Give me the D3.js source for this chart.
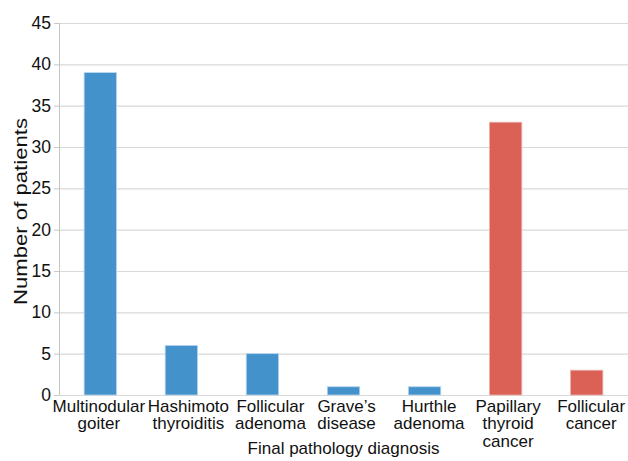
<!DOCTYPE html>
<html>
<head>
<meta charset="utf-8">
<script src="https://cdn.jsdelivr.net/npm/d3@7"></script>
<style>
  html, body { margin: 0; padding: 0; background: #fff; }
  svg { display: block; font-family: "Liberation Sans", Arial, sans-serif; }
</style>
</head>
<body>
<svg id="chart" width="628" height="461"></svg>
<script>
// Diagnosis categories (each label split into its display lines)
const categories = [
  ["Multinodular", "goiter"],
  ["Hashimoto", "thyroiditis"],
  ["Follicular", "adenoma"],
  ["Grave\u2019s", "disease"],
  ["Hurthle", "adenoma"],
  ["Papillary", "thyroid", "cancer"],
  ["Follicular", "cancer"]
];
// Number of patients per diagnosis
const patients = [39, 6, 5, 1, 1, 33, 3];
// Benign vs malignant grouping, used for colour
const group = ["benign", "benign", "benign", "benign", "benign", "malignant", "malignant"];
const yTicks = [0, 5, 10, 15, 20, 25, 30, 35, 40, 45];

// Layout: small horizontal nudges of the category labels (px)
const labelShift = [-1.5, 7, 8, 3, 4.5, 2.5, 4.5];

const colours = { benign: "#4392cb", malignant: "#db6156" };
const strokes = { benign: "#b9d6ee", malignant: "#f0b3ad" };

const svg = d3.select("#chart");
const plotLeft = 59, plotRight = 628, plotTop = 23, plotBottom = 395;

const keys = categories.map(c => c.join(" "));
const x = d3.scaleBand().domain(keys).range([plotLeft, plotRight])
  .paddingInner(0.6).paddingOuter(0.31);
const y = d3.scaleLinear().domain([0, 45]).range([plotBottom, plotTop]);

// Horizontal gridlines with short outward ticks
const yAxis = svg.append("g")
  .attr("transform", `translate(${plotLeft},0)`)
  .call(d3.axisLeft(y).tickValues(yTicks).tickSize(5).tickPadding(3));
yAxis.select(".domain").remove();
yAxis.selectAll(".tick line").attr("stroke", "#c8c8c8");
yAxis.selectAll(".tick text")
  .attr("fill", "#111").style("font-size", "17.5px");
yAxis.selectAll(".tick").append("line")
  .attr("x1", 0).attr("x2", plotRight - plotLeft)
  .attr("stroke", "#d9d9d9").attr("stroke-width", 1.2);

// Vertical axis line
svg.append("line")
  .attr("x1", plotLeft + 0.5).attr("x2", plotLeft + 0.5)
  .attr("y1", plotTop).attr("y2", plotBottom)
  .attr("stroke", "#c4c4c4").attr("stroke-width", 1);

// Bars
svg.append("g").selectAll("rect")
  .data(patients)
  .join("rect")
  .attr("x", (d, i) => x(keys[i]))
  .attr("width", x.bandwidth())
  .attr("y", d => y(d))
  .attr("height", d => y(0) - y(d))
  .attr("fill", (d, i) => colours[group[i]])
  .attr("stroke", (d, i) => strokes[group[i]])
  .attr("stroke-width", 0.8);

// Category labels, multi-line
const lab = svg.append("g").selectAll("text")
  .data(categories)
  .join("text")
  .attr("text-anchor", "middle")
  .attr("fill", "#111")
  .style("font-size", "17px")
  .attr("transform", (d, i) => `translate(${x(keys[i]) + x.bandwidth() / 2 + labelShift[i]},0)`);
lab.selectAll("tspan")
  .data(d => d)
  .join("tspan")
  .attr("x", 0)
  .attr("y", (d, j) => 411.5 + j * 17.5)
  .text(d => d);

// Axis titles
svg.append("text")
  .attr("x", (plotLeft + plotRight) / 2).attr("y", 454)
  .attr("text-anchor", "middle").attr("fill", "#111")
  .style("font-size", "17px")
  .text("Final pathology diagnosis");

svg.append("text")
  .attr("transform", `translate(26.5,211.5) rotate(-90)`)
  .attr("text-anchor", "middle").attr("fill", "#111")
  .style("font-size", "18px")
  .attr("textLength", 187).attr("lengthAdjust", "spacingAndGlyphs")
  .text("Number of patients");
</script>
</body>
</html>
